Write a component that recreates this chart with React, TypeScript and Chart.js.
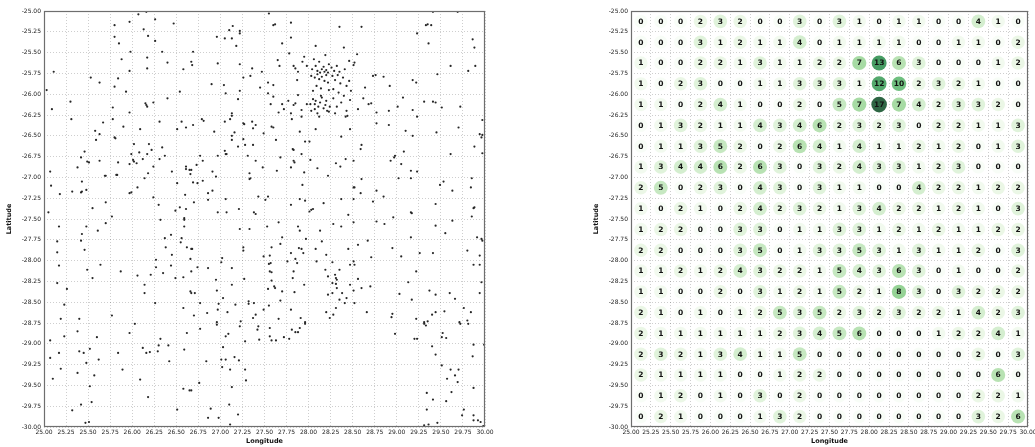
import { useEffect, useRef } from "react";
import { Chart, registerables } from "chart.js";

Chart.register(...registerables);

// Axis ticks (degrees)
const lonTicks = [25.0, 25.25, 25.5, 25.75, 26.0, 26.25, 26.5, 26.75, 27.0, 27.25, 27.5, 27.75, 28.0, 28.25, 28.5, 28.75, 29.0, 29.25, 29.5, 29.75, 30.0];
const latTicks = [-25.0, -25.25, -25.5, -25.75, -26.0, -26.25, -26.5, -26.75, -27.0, -27.25, -27.5, -27.75, -28.0, -28.25, -28.5, -28.75, -29.0, -29.25, -29.5, -29.75, -30.0];

// Centres of the 0.25° grid cells
const cellLon = [25.125, 25.375, 25.625, 25.875, 26.125, 26.375, 26.625, 26.875, 27.125, 27.375, 27.625, 27.875, 28.125, 28.375, 28.625, 28.875, 29.125, 29.375, 29.625, 29.875];
const cellLat = [-25.125, -25.375, -25.625, -25.875, -26.125, -26.375, -26.625, -26.875, -27.125, -27.375, -27.625, -27.875, -28.125, -28.375, -28.625, -28.875, -29.125, -29.375, -29.625, -29.875];

// Number of records per cell, north row first, west column first
const cellCounts = [
  [0, 0, 0, 2, 3, 2, 0, 0, 3, 0, 3, 1, 0, 1, 1, 0, 0, 4, 1, 0],
  [0, 0, 0, 3, 1, 2, 1, 1, 4, 0, 1, 1, 1, 1, 0, 0, 1, 1, 0, 2],
  [1, 0, 0, 2, 2, 1, 3, 1, 1, 2, 2, 7, 13, 6, 3, 0, 0, 0, 1, 2],
  [1, 0, 2, 3, 0, 0, 1, 1, 3, 3, 3, 1, 12, 10, 2, 3, 2, 1, 0, 0],
  [1, 1, 0, 2, 4, 1, 0, 0, 2, 0, 5, 7, 17, 7, 4, 2, 3, 3, 2, 0],
  [0, 1, 3, 2, 1, 1, 4, 3, 4, 6, 2, 3, 2, 3, 0, 2, 2, 1, 1, 3],
  [0, 1, 1, 3, 5, 2, 0, 2, 6, 4, 1, 4, 1, 1, 2, 1, 2, 0, 1, 3],
  [1, 3, 4, 4, 6, 2, 6, 3, 0, 3, 2, 4, 3, 3, 1, 2, 3, 0, 0, 0],
  [2, 5, 0, 2, 3, 0, 4, 3, 0, 3, 1, 1, 0, 0, 4, 2, 2, 1, 2, 2],
  [1, 0, 2, 1, 0, 2, 4, 2, 3, 2, 1, 3, 4, 2, 2, 1, 2, 1, 0, 3],
  [1, 2, 2, 0, 0, 3, 3, 0, 1, 1, 3, 3, 1, 2, 1, 2, 1, 1, 2, 2],
  [2, 2, 0, 0, 0, 3, 5, 0, 1, 3, 3, 5, 3, 1, 3, 1, 1, 2, 0, 3],
  [1, 1, 2, 1, 2, 4, 3, 2, 2, 1, 5, 4, 3, 6, 3, 0, 1, 0, 0, 2],
  [1, 1, 0, 0, 2, 0, 3, 1, 2, 1, 5, 2, 1, 8, 3, 0, 3, 2, 2, 2],
  [2, 1, 0, 1, 0, 1, 2, 5, 3, 5, 2, 3, 2, 3, 2, 2, 1, 4, 2, 3],
  [2, 1, 1, 1, 1, 1, 1, 2, 3, 4, 5, 6, 0, 0, 0, 1, 2, 2, 4, 1],
  [2, 3, 2, 1, 3, 4, 1, 1, 5, 0, 0, 0, 0, 0, 0, 0, 0, 2, 0, 3],
  [2, 1, 1, 1, 1, 0, 0, 1, 2, 2, 0, 0, 0, 0, 0, 0, 0, 0, 6, 0],
  [0, 1, 2, 0, 1, 0, 3, 0, 2, 0, 0, 0, 0, 0, 0, 0, 0, 2, 2, 1],
  [0, 2, 1, 0, 0, 0, 1, 3, 2, 0, 0, 0, 0, 0, 0, 0, 0, 3, 2, 6],
];

// Record locations [longitude, latitude], -25.00 to -26.75
const sightingsNorth: [number, number][] = [
  [25.80, -25.17], [25.97, -25.13], [26.07, -25.04], [26.16, -25.01], [26.13, -25.22], [26.26, -25.10], [26.47, -25.15],
  [27.14, -25.18], [27.10, -25.23], [27.22, -25.24], [27.60, -25.17], [27.62, -25.16], [27.55, -25.03], [27.80, -25.14],
  [28.35, -25.19], [28.60, -25.19], [29.33, -25.17], [29.35, -25.16], [29.39, -25.17], [29.41, -25.01], [29.69, -25.01],

  [25.80, -25.31], [25.85, -25.39], [25.98, -25.49], [26.18, -25.30], [26.26, -25.36], [26.34, -25.49], [26.69, -25.49],
  [26.96, -25.31], [27.05, -25.33], [27.13, -25.33], [27.22, -25.27], [27.18, -25.42], [27.70, -25.39], [27.80, -25.32],
  [28.08, -25.42], [28.40, -25.44], [29.23, -25.27], [29.36, -25.39], [29.86, -25.34], [29.88, -25.44],

  [25.11, -25.73], [25.97, -25.72], [25.88, -25.58], [26.17, -25.56], [26.17, -25.69], [26.40, -25.62], [26.67, -25.61],
  [26.68, -25.65], [26.58, -25.70], [26.97, -25.63], [27.22, -25.64], [27.36, -25.69], [27.47, -25.73], [27.65, -25.59],
  [27.67, -25.66], [27.78, -25.51], [27.83, -25.66], [27.85, -25.69], [27.93, -25.61], [27.98, -25.66], [27.88, -25.73],
  [27.95, -25.55], [28.04, -25.70], [28.08, -25.66], [28.10, -25.72], [28.13, -25.74], [28.15, -25.70], [28.17, -25.67],
  [28.18, -25.73], [28.20, -25.71], [28.22, -25.74], [28.12, -25.61], [28.06, -25.58], [28.23, -25.64], [28.19, -25.53],
  [28.26, -25.68], [28.29, -25.72], [28.32, -25.66], [28.35, -25.73], [28.41, -25.70], [28.46, -25.60], [28.51, -25.65],
  [28.52, -25.62], [28.55, -25.52], [29.61, -25.66], [29.89, -25.66], [29.81, -25.72],

  [25.03, -25.95], [25.53, -25.80], [25.63, -25.86], [25.80, -25.91], [25.84, -25.81], [25.93, -25.97], [26.54, -25.97],
  [26.90, -25.88], [27.04, -25.89], [27.06, -25.99], [27.22, -25.96], [27.26, -25.80], [27.34, -25.78], [27.45, -25.92],
  [27.54, -25.86], [27.60, -25.89], [27.54, -25.99], [27.87, -25.83], [28.03, -25.78], [28.07, -25.80], [28.10, -25.76],
  [28.12, -25.82], [28.15, -25.79], [28.18, -25.84], [28.20, -25.77], [28.22, -25.86], [28.09, -25.90], [28.14, -25.93],
  [28.05, -25.96], [28.23, -25.95], [28.27, -25.78], [28.30, -25.83], [28.33, -25.77], [28.36, -25.87], [28.39, -25.80],
  [28.43, -25.90], [28.28, -25.94], [28.46, -25.84], [28.34, -25.98], [28.48, -25.96], [28.73, -25.78], [28.64, -25.92],
  [28.76, -25.77], [28.85, -25.79], [28.92, -25.90], [29.18, -25.83], [29.22, -25.86], [29.46, -25.76],

  [25.09, -26.18], [25.30, -26.09], [25.78, -26.16], [25.97, -26.22], [26.15, -26.11], [26.16, -26.13], [26.17, -26.15],
  [26.24, -26.10], [26.40, -26.05], [27.13, -26.23], [27.20, -26.06], [27.57, -26.12], [27.70, -26.12], [27.72, -26.18],
  [27.60, -26.03], [27.66, -26.22], [27.77, -26.08], [27.88, -26.01], [27.85, -26.11], [27.83, -26.13], [27.98, -26.12],
  [27.92, -26.19], [27.80, -26.23], [28.02, -26.12], [28.07, -26.12], [28.05, -26.06], [28.08, -26.08], [28.07, -26.18],
  [28.11, -26.15], [28.13, -26.10], [28.15, -26.04], [28.17, -26.17], [28.19, -26.13], [28.21, -26.20], [28.23, -26.21],
  [28.10, -26.23], [28.03, -26.20], [28.14, -26.02], [28.20, -26.08], [28.24, -26.15], [28.32, -26.15], [28.37, -26.10],
  [28.43, -26.20], [28.28, -26.05], [28.47, -26.07], [28.30, -26.23], [28.40, -26.02], [28.68, -26.12], [28.71, -26.11],
  [28.56, -26.18], [28.62, -26.05], [28.77, -26.22], [28.91, -26.20], [29.01, -26.15], [29.07, -26.04], [29.18, -26.19],
  [29.31, -26.09], [29.41, -26.09], [29.44, -26.10], [29.51, -26.16], [29.72, -26.15],

  [25.31, -26.30], [25.67, -26.34], [25.63, -26.48], [25.58, -26.44], [25.78, -26.30], [25.90, -26.39], [26.09, -26.42],
  [26.31, -26.33], [26.51, -26.42], [26.56, -26.33], [26.61, -26.40], [26.69, -26.37], [26.79, -26.30], [26.81, -26.32],
  [26.93, -26.45], [27.05, -26.33], [27.11, -26.30], [27.13, -26.26], [27.16, -26.46], [27.26, -26.35], [27.27, -26.36],
  [27.36, -26.33], [27.40, -26.37], [27.37, -26.41], [27.49, -26.47], [27.58, -26.39], [27.60, -26.40], [27.81, -26.30],
  [27.92, -26.27], [27.90, -26.45], [28.08, -26.42], [28.12, -26.27], [28.42, -26.27], [28.44, -26.26], [28.47, -26.42],
  [28.77, -26.35], [28.91, -26.37], [29.23, -26.27], [29.10, -26.44], [29.45, -26.46], [29.70, -26.40], [29.97, -26.31],
  [29.94, -26.48], [29.97, -26.49],

  [25.46, -26.69], [25.59, -26.55], [25.80, -26.52], [25.81, -26.53], [25.99, -26.72], [26.02, -26.60], [26.19, -26.60],
  [26.22, -26.67], [26.17, -26.72], [26.08, -26.70], [26.34, -26.64], [26.37, -26.74], [26.77, -26.74], [26.97, -26.74],
  [27.05, -26.68], [27.06, -26.72], [27.07, -26.72], [27.13, -26.50], [27.13, -26.55], [27.20, -26.63], [27.26, -26.54],
  [27.28, -26.61], [27.37, -26.61], [27.31, -26.74], [27.63, -26.55], [27.96, -26.57], [27.82, -26.66], [27.83, -26.67],
  [27.92, -26.72], [28.01, -26.57], [28.37, -26.51], [28.60, -26.61], [28.59, -26.66], [28.98, -26.74], [29.18, -26.50],
  [29.08, -26.69], [29.61, -26.72], [29.97, -26.71], [29.96, -26.52], [29.88, -26.63],
];

// Record locations, -26.75 to -28.50
const sightingsCentral: [number, number][] = [
  [25.07, -26.93], [25.38, -26.88], [25.42, -26.76], [25.49, -26.81], [25.51, -26.82], [25.63, -26.80], [25.69, -26.98],
  [25.70, -26.98], [25.82, -26.97], [25.83, -26.97], [25.84, -26.82], [25.97, -26.84], [26.01, -26.79], [26.02, -26.81],
  [26.12, -26.78], [26.24, -26.87], [26.05, -26.83], [26.18, -26.95], [26.31, -26.78], [26.45, -26.93], [26.61, -26.87],
  [26.61, -26.90], [26.65, -26.91], [26.67, -26.91], [26.73, -26.85], [26.66, -26.96], [26.91, -26.93], [26.80, -26.80],
  [26.95, -26.99], [27.48, -26.88], [27.33, -26.95], [27.40, -26.80], [27.68, -26.76], [27.64, -26.92], [27.83, -26.80],
  [27.84, -26.82], [27.80, -26.88], [27.95, -26.94], [28.02, -26.79], [28.10, -26.89], [28.22, -26.98], [28.31, -26.83],
  [28.36, -26.87], [28.42, -26.78], [28.51, -26.80], [28.93, -26.80], [28.97, -26.76], [29.16, -26.92], [29.23, -26.93],
  [29.05, -26.84],

  [25.08, -27.10], [25.18, -27.20], [25.43, -27.05], [25.32, -27.17], [25.42, -27.18], [25.43, -27.17], [25.48, -27.15],
  [25.97, -27.19], [25.99, -27.18], [26.14, -27.01], [26.24, -27.24], [26.06, -27.12], [26.51, -27.07], [26.69, -27.06],
  [26.74, -27.07], [26.60, -27.21], [26.86, -27.19], [26.91, -27.16], [26.80, -27.04], [27.34, -27.01], [27.33, -27.02],
  [27.43, -27.23], [27.54, -27.23], [27.93, -27.09], [28.51, -27.12], [28.52, -27.12], [28.59, -27.19], [28.60, -27.02],
  [28.77, -27.16], [28.85, -27.23], [29.02, -27.01], [29.16, -27.01], [29.49, -27.09], [29.63, -27.16], [29.53, -27.05],
  [29.84, -27.12], [29.85, -27.01],

  [25.05, -27.42], [25.55, -27.37], [25.70, -27.30], [25.77, -27.47], [26.49, -27.40], [26.30, -27.33], [26.54, -27.36],
  [26.61, -27.38], [26.59, -27.49], [26.70, -27.30], [26.86, -27.27], [26.97, -27.42], [27.06, -27.26], [27.07, -27.42],
  [27.21, -27.38], [27.38, -27.42], [27.40, -27.44], [27.51, -27.27], [27.90, -27.26], [27.96, -27.28], [27.80, -27.33],
  [28.01, -27.41], [28.03, -27.39], [28.05, -27.38], [28.17, -27.31], [28.37, -27.26], [28.45, -27.45], [28.51, -27.26],
  [28.73, -27.29], [28.96, -27.48], [29.16, -27.42], [29.17, -27.43], [29.44, -27.32], [29.88, -27.36], [29.87, -27.37],
  [29.85, -27.47],

  [25.17, -27.59], [25.48, -27.59], [25.43, -27.68], [25.61, -27.64], [25.70, -27.55], [26.32, -27.51], [26.44, -27.69],
  [26.37, -27.73], [26.59, -27.51], [26.59, -27.59], [26.56, -27.73], [27.22, -27.62], [27.33, -27.62], [27.53, -27.59],
  [27.66, -27.54], [27.70, -27.72], [27.88, -27.59], [27.90, -27.64], [27.97, -27.74], [28.13, -27.64], [28.28, -27.56],
  [28.37, -27.59], [28.51, -27.54], [28.77, -27.53], [28.86, -27.56], [29.16, -27.72], [29.44, -27.58], [29.55, -27.67],
  [29.63, -27.52], [29.91, -27.72], [29.96, -27.74],

  [25.15, -27.77], [25.15, -27.90], [25.42, -27.76], [25.46, -27.87], [26.38, -27.84], [26.27, -27.99], [26.45, -27.93],
  [26.62, -27.84], [26.67, -27.86], [26.68, -27.86], [26.66, -27.98], [26.55, -27.78], [27.02, -27.97], [27.26, -27.84],
  [27.26, -27.88], [27.49, -27.95], [27.58, -27.84], [27.56, -27.94], [27.68, -27.80], [27.80, -27.91], [27.89, -27.85],
  [27.92, -27.86], [27.94, -27.91], [27.85, -27.98], [28.08, -27.86], [28.15, -27.77], [28.20, -27.93], [28.45, -27.86],
  [28.56, -27.81], [28.67, -27.76], [28.71, -27.96], [28.95, -27.85], [29.05, -27.95], [29.26, -27.91], [29.41, -27.91],
  [29.94, -27.94], [29.97, -27.76], [29.80, -27.88],

  [25.17, -28.06], [25.49, -28.11], [25.55, -28.21], [25.64, -28.05], [25.87, -28.13], [26.06, -28.18], [26.21, -28.17],
  [26.27, -28.08], [26.44, -28.06], [26.49, -28.21], [26.35, -28.15], [26.67, -28.13], [26.74, -28.08], [26.58, -28.20],
  [26.86, -28.09], [26.95, -28.23], [27.01, -28.02], [27.13, -28.09], [27.27, -28.22], [27.55, -28.04], [27.57, -28.03],
  [27.56, -28.13], [27.58, -28.14], [27.58, -28.24], [27.83, -28.13], [27.82, -28.21], [27.87, -28.03], [27.76, -28.01],
  [28.09, -28.01], [28.19, -28.11], [28.22, -28.19], [28.30, -28.17], [28.31, -28.21], [28.32, -28.23], [28.35, -28.11],
  [28.47, -28.05], [28.27, -28.02], [28.52, -28.05], [28.51, -28.01], [28.56, -28.22], [29.22, -28.13], [29.94, -28.05],
  [29.87, -28.05],

  [25.15, -28.27], [25.26, -28.34], [26.14, -28.29], [26.14, -28.39], [26.66, -28.37], [26.67, -28.39], [26.71, -28.39],
  [26.96, -28.36], [27.03, -28.45], [27.13, -28.29], [27.32, -28.49], [27.54, -28.34], [27.61, -28.31], [27.62, -28.33],
  [27.70, -28.37], [27.68, -28.48], [27.84, -28.38], [27.95, -28.29], [28.22, -28.41], [28.27, -28.27], [28.27, -28.39],
  [28.32, -28.33], [28.31, -28.28], [28.38, -28.39], [28.47, -28.29], [28.43, -28.45], [28.35, -28.47], [28.51, -28.36],
  [28.60, -28.33], [28.70, -28.31], [29.03, -28.40], [29.17, -28.47], [29.13, -28.26], [29.37, -28.36], [29.44, -28.41],
  [29.60, -28.39], [29.66, -28.46], [29.94, -28.39], [29.96, -28.26],
];

// Record locations, -28.50 to -30.00
const sightingsSouth: [number, number][] = [
  [25.23, -28.53], [25.19, -28.70], [25.40, -28.70], [25.77, -28.66], [26.26, -28.51], [26.58, -28.57], [26.70, -28.66],
  [26.77, -28.51], [26.98, -28.52], [26.97, -28.59], [26.96, -28.74], [26.85, -28.63], [27.17, -28.53], [27.23, -28.73],
  [27.08, -28.62], [27.32, -28.52], [27.38, -28.51], [27.37, -28.69], [27.40, -28.65], [27.49, -28.59], [27.55, -28.54],
  [27.66, -28.70], [27.80, -28.59], [27.91, -28.69], [27.96, -28.74], [28.20, -28.62], [28.24, -28.69], [28.28, -28.65],
  [28.31, -28.57], [28.41, -28.51], [28.52, -28.51], [28.66, -28.62], [28.95, -28.64], [28.94, -28.68], [29.22, -28.70],
  [29.31, -28.74], [29.35, -28.73], [29.40, -28.65], [29.44, -28.62], [29.54, -28.61], [29.71, -28.74], [29.76, -28.57],
  [29.84, -28.62], [29.80, -28.72],

  [25.07, -28.96], [25.23, -28.91], [25.38, -28.85], [25.60, -28.92], [25.97, -28.87], [26.03, -28.76], [26.32, -28.94],
  [26.62, -28.87], [26.77, -28.82], [26.96, -28.77], [27.06, -28.91], [27.09, -28.88], [27.22, -28.79], [27.28, -28.97],
  [27.42, -28.83], [27.43, -28.79], [27.44, -28.95], [27.56, -28.91], [27.56, -28.81], [27.58, -28.96], [27.63, -28.96],
  [27.72, -28.92], [27.81, -28.83], [27.85, -28.86], [27.88, -28.86], [27.90, -28.81], [27.96, -28.76], [27.78, -28.94],
  [28.98, -28.88], [29.20, -28.94], [29.23, -28.94], [29.31, -28.76], [29.33, -28.78], [29.51, -28.92], [29.52, -28.87],
  [29.56, -28.93], [29.72, -28.76], [29.81, -28.76],

  [25.07, -29.17], [25.17, -29.11], [25.40, -29.09], [25.45, -29.11], [25.48, -29.23], [25.52, -29.06], [25.62, -29.19],
  [25.84, -29.11], [26.12, -29.05], [26.16, -29.11], [26.20, -29.10], [26.29, -29.09], [26.30, -29.02], [26.41, -29.02],
  [26.42, -29.21], [26.59, -29.07], [26.84, -29.21], [27.01, -29.19], [27.06, -29.19], [27.16, -29.16], [27.21, -29.20],
  [27.03, -29.04], [29.40, -29.03], [29.44, -29.13], [29.87, -29.01], [29.86, -29.15], [29.99, -29.01],

  [25.19, -29.30], [25.10, -29.42], [25.38, -29.35], [25.57, -29.38], [25.89, -29.31], [26.09, -29.43], [26.76, -29.47],
  [27.02, -29.28], [27.11, -29.31], [27.28, -29.31], [27.29, -29.44], [29.51, -29.26], [29.61, -29.31], [29.66, -29.38],
  [29.70, -29.31], [29.69, -29.46], [29.57, -29.42],

  [25.42, -29.73], [25.52, -29.51], [25.54, -29.70], [26.18, -29.64], [26.58, -29.54], [26.65, -29.56], [26.67, -29.56],
  [27.13, -29.52], [27.10, -29.73], [29.34, -29.59], [29.41, -29.67], [29.56, -29.69], [29.62, -29.58], [29.87, -29.53],

  [25.32, -29.80], [25.47, -29.95], [25.51, -29.94], [26.51, -29.79], [26.86, -29.89], [26.89, -29.78], [26.98, -29.89],
  [27.11, -29.97], [27.20, -29.85], [29.34, -29.79], [29.31, -29.98], [29.36, -29.97], [29.46, -29.95], [29.74, -29.86],
  [29.76, -29.79], [29.87, -29.86], [29.87, -29.92], [29.92, -29.92], [29.95, -29.94], [29.98, -29.99],
];

const FONT_FAMILY = "'DejaVu Sans', 'Liberation Sans', sans-serif";
const TICK_FONT = { family: FONT_FAMILY, size: 6 };
const TITLE_FONT = { family: FONT_FAMILY, size: 6.5, weight: "bold" as const };

// matplotlib "Greens" anchor colours
const GREENS: [number, number, number][] = [
  [247, 252, 245], [229, 245, 224], [199, 233, 192], [161, 217, 155], [116, 196, 118],
  [65, 171, 93], [35, 139, 69], [0, 109, 44], [0, 68, 27],
];

function greens(t: number, alpha: number): string {
  const c = Math.max(0, Math.min(1, t)) * (GREENS.length - 1);
  const i = Math.min(GREENS.length - 2, Math.floor(c));
  const f = c - i;
  const a = GREENS[i];
  const b = GREENS[i + 1];
  const mix = (k: number) => Math.round(a[k] + (b[k] - a[k]) * f);
  return `rgba(${mix(0)},${mix(1)},${mix(2)},${alpha})`;
}

const framePlugin = {
  id: "frame",
  afterDraw(chart: any) {
    const { ctx, chartArea: a } = chart;
    ctx.save();
    ctx.strokeStyle = "#6e6e6e";
    ctx.lineWidth = 1.2;
    ctx.strokeRect(Math.round(a.left) + 0.5, Math.round(a.top) + 0.5, Math.round(a.width) - 1, Math.round(a.height) - 1);
    ctx.restore();
  },
};

const countLabelPlugin = {
  id: "countLabels",
  afterDatasetsDraw(chart: any) {
    const { ctx } = chart;
    const meta = chart.getDatasetMeta(0);
    const data = chart.data.datasets[0].data as { count: number }[];
    ctx.save();
    ctx.font = `bold 7.5px ${FONT_FAMILY}`;
    ctx.fillStyle = "#111";
    ctx.textAlign = "center";
    ctx.textBaseline = "middle";
    meta.data.forEach((el: any, i: number) => {
      ctx.fillText(String(data[i].count), el.x, el.y + 0.5);
    });
    ctx.restore();
  },
};

function buildScales() {
  const grid = { color: "rgba(0,0,0,0.28)", lineWidth: 0.7, drawTicks: false, borderDash: [1, 2] };
  return {
    x: {
      type: "linear" as const,
      min: 25,
      max: 30,
      afterBuildTicks: (s: any) => {
        s.ticks = lonTicks.map((v) => ({ value: v }));
      },
      afterFit: (s: any) => {
        s.height = 20;
      },
      ticks: {
        autoSkip: false,
        maxRotation: 0,
        padding: 2,
        color: "#222",
        font: TICK_FONT,
        callback: (v: any) => Number(v).toFixed(2),
      },
      grid,
      border: { display: false, dash: [1, 2] },
      title: { display: true, text: "Longitude", color: "#111", font: TITLE_FONT, padding: { top: 0, bottom: 2 } },
    },
    y: {
      type: "linear" as const,
      min: -30,
      max: -25,
      afterBuildTicks: (s: any) => {
        s.ticks = latTicks.map((v) => ({ value: v }));
      },
      afterFit: (s: any) => {
        s.width = 43;
      },
      ticks: {
        autoSkip: false,
        padding: 3,
        color: "#222",
        font: TICK_FONT,
        callback: (v: any) => Number(v).toFixed(2),
      },
      grid,
      border: { display: false, dash: [1, 2] },
      title: { display: true, text: "Latitude", color: "#111", font: TITLE_FONT, padding: { top: 4, bottom: 0 } },
    },
  };
}

export default function App() {
  const leftRef = useRef<HTMLCanvasElement>(null);
  const rightRef = useRef<HTMLCanvasElement>(null);

  useEffect(() => {
    const records = [...sightingsNorth, ...sightingsCentral, ...sightingsSouth].map(([x, y]) => ({ x, y }));

    const left = new Chart(leftRef.current!, {
      type: "scatter",
      data: {
        datasets: [
          {
            data: records,
            pointRadius: 1.1,
            pointHoverRadius: 1.1,
            pointBackgroundColor: "#262626",
            pointBorderWidth: 0,
          },
        ],
      },
      options: {
        animation: false,
        responsive: false,
        devicePixelRatio: 1,
        events: [],
        layout: { padding: { left: 1, top: 11, right: 32, bottom: 0 } },
        plugins: { legend: { display: false }, tooltip: { enabled: false } },
        scales: buildScales() as any,
      },
      plugins: [framePlugin],
    });

    const maxCount = Math.max(...cellCounts.flat());
    const cells: { x: number; y: number; count: number }[] = [];
    cellCounts.forEach((row, r) => {
      row.forEach((count, c) => {
        cells.push({ x: cellLon[c], y: cellLat[r], count });
      });
    });

    const right = new Chart(rightRef.current!, {
      type: "scatter",
      data: {
        datasets: [
          {
            data: cells,
            pointRadius: (ctx: any) => 6.6 + 0.07 * (ctx.raw?.count ?? 0),
            pointHoverRadius: (ctx: any) => 6.6 + 0.07 * (ctx.raw?.count ?? 0),
            pointBackgroundColor: (ctx: any) => greens((ctx.raw?.count ?? 0) / maxCount, 0.82),
            pointBorderWidth: 0,
          },
        ],
      },
      options: {
        animation: false,
        responsive: false,
        devicePixelRatio: 1,
        events: [],
        layout: { padding: { left: 0, top: 11, right: 20, bottom: 0 } },
        plugins: { legend: { display: false }, tooltip: { enabled: false } },
        scales: buildScales() as any,
      },
      plugins: [framePlugin, countLabelPlugin],
    });

    return () => {
      left.destroy();
      right.destroy();
    };
  }, []);

  return (
    <div style={{ position: "absolute", left: 0, top: 0, width: 1035, height: 447, overflow: "hidden", background: "#fff" }}>
      <canvas ref={leftRef} width={517} height={447} style={{ position: "absolute", left: 0, top: 0, width: 517, height: 447 }} />
      <canvas ref={rightRef} width={460} height={447} style={{ position: "absolute", left: 588, top: 0, width: 460, height: 447 }} />
    </div>
  );
}
